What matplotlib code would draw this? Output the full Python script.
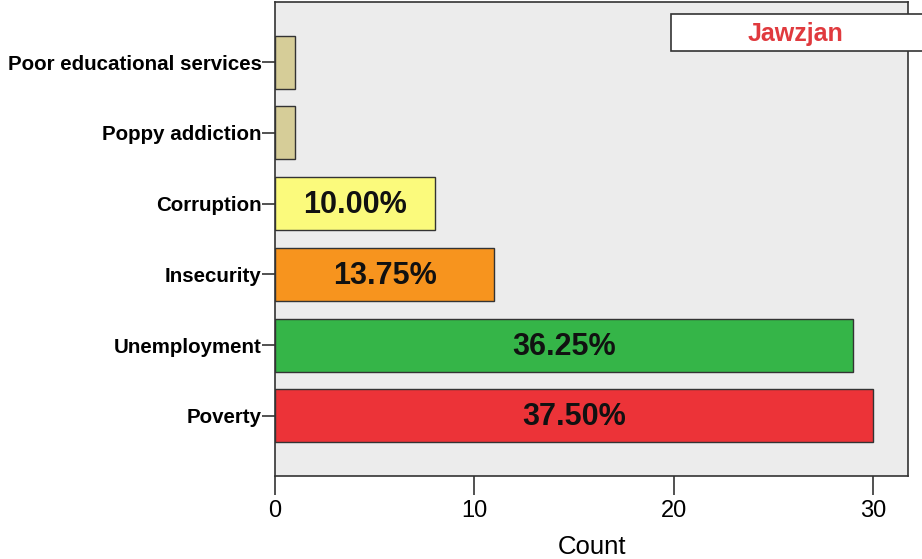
"""Jawzjan: main problems, horizontal count bars with percentage labels."""

import matplotlib

matplotlib.use("Agg")
import matplotlib.pyplot as plt
from matplotlib.patches import Rectangle

plt.rcParams["font.family"] = ["Liberation Sans", "DejaVu Sans"]

CATEGORIES = ["Poverty", "Unemployment", "Insecurity", "Corruption",
              "Poppy addiction", "Poor educational services"]
COUNTS = [30, 29, 11, 8, 1, 1]
PERCENT_LABELS = ["37.50%", "36.25%", "13.75%", "10.00%", "", ""]
BAR_COLORS = ["#ec3338", "#35b548", "#f7941e", "#fbfa7c", "#d6cd98", "#d6cd98"]
X_TICKS = [0, 10, 20, 30]
PROVINCE = "Jawzjan"

PANEL = "#ececec"
EDGE = "#333333"


def main() -> None:
    fig = plt.figure(figsize=(9.22, 5.59), dpi=100)
    ax = fig.add_axes([0.2983, 0.1485, 0.6867, 0.8479])
    ax.set_facecolor(PANEL)

    y = list(range(len(CATEGORIES)))
    ax.barh(y, COUNTS, height=0.75, color=BAR_COLORS, edgecolor=EDGE,
            linewidth=1.0, zorder=2)
    for yi, count, label in zip(y, COUNTS, PERCENT_LABELS):
        if label:
            ax.text(count / 2, yi - 0.02, label, ha="center", va="center",
                    fontsize=22, fontweight="bold", color="#111111", zorder=3)

    ax.set_xlim(0, 31.75)
    ax.set_ylim(-0.85, 5.85)
    ax.set_xticks(X_TICKS)
    ax.set_xticklabels([str(t) for t in X_TICKS], fontsize=17)
    ax.set_yticks(y)
    ax.set_yticklabels(CATEGORIES, fontsize=14.8, fontweight="bold")
    ax.tick_params(axis="x", length=14, width=1.2, color=EDGE, pad=3)
    ax.tick_params(axis="y", length=9.5, width=1.2, color=EDGE, pad=0)
    ax.set_xlabel("Count", fontsize=18.5, labelpad=10)
    for side in ax.spines.values():
        side.set_color(EDGE)
        side.set_linewidth(1.2)

    # Province label box, running off the right edge like the original.
    ax.add_patch(Rectangle((19.85, 5.157), 14, 0.523, transform=ax.transData,
                           facecolor="white", edgecolor=EDGE, linewidth=1.2,
                           clip_on=False, zorder=4))
    ax.text(26.1, 5.40, PROVINCE, ha="center", va="center", fontsize=18,
            fontweight="bold", color="#e03a3e", zorder=5)

    fig.savefig("out.png", dpi=100)


if __name__ == "__main__":
    main()
